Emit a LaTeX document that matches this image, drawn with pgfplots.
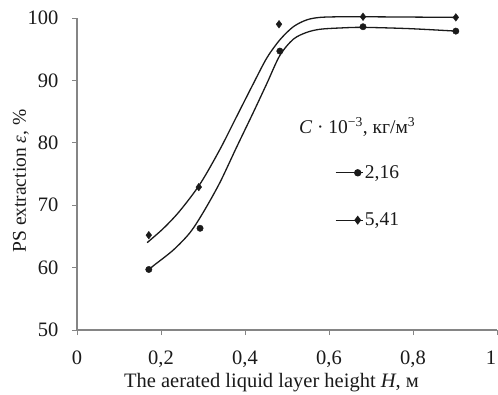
\documentclass[border=0pt]{standalone}
\usepackage{pgfplots}
\pgfplotsset{compat=1.18}
\usepackage{fontspec}
\setmainfont{Liberation Serif}

\newcommand\tickfont{\fontsize{20.5}{24}\selectfont}
\newcommand\chartfont{\fontsize{19.5}{23}\selectfont}
\definecolor{axisgray}{HTML}{858585}
\definecolor{ink}{HTML}{1A1A1A}

\begin{document}
\begin{tikzpicture}
\begin{axis}[
  scale only axis,
  width=420pt, height=312pt,
  xmin=0, xmax=1, ymin=50, ymax=100,
  axis lines*=left,
  axis line style={axisgray, line width=1.1pt},
  every tick/.style={axisgray, line width=0.8pt},
  tick align=outside,
  major tick length=5pt,
  xtick={0,0.2,0.4,0.6,0.8},
  extra x ticks={1},
  extra x tick style={xticklabel style={xshift=-6pt}},
  ytick={50,60,...,100},
  /pgf/number format/assume math mode=true,
  /pgf/number format/use comma,
  xticklabel style={/pgf/number format/fixed, /pgf/number format/precision=1,
    yshift=-12pt},
  yticklabel style={xshift=-10pt},
  ticklabel style={font=\tickfont, text=ink},
  xlabel={The aerated liquid layer height \textit{H}, м},
  xlabel style={font=\tickfont, text=ink,
    at={(axis description cs:0.463,-0.1827)}, anchor=base},
  ylabel={PS extraction \textit{ε}, \%},
  ylabel style={font=\chartfont, text=ink,
    at={(axis description cs:-0.1333,0.4776)}, anchor=center},
  clip=false,
  legend style={at={(0.614,0.428)}, anchor=west, draw=none, fill=none,
    font=\chartfont, text=ink, row sep=30pt, inner xsep=0pt,
    nodes={inner sep=1.5pt}},
  legend cell align=left,
  legend image code/.code={
    \draw[#1, mark=none] (0pt,0pt) -- (27pt,0pt);
    \draw[#1] plot coordinates {(22pt,0pt)};
  },
]

% fitted trend curves
\addplot[ink, line width=1.3pt, smooth, tension=0.5, forget plot] coordinates {
  (0.170,59.6) (0.182,60.3) (0.229,62.8) (0.269,65.6) (0.301,68.9)
  (0.340,73.6) (0.380,79.3) (0.420,84.9) (0.452,89.5) (0.483,94.0)
  (0.515,96.6) (0.547,97.7) (0.579,98.2) (0.626,98.4) (0.680,98.5)
  (0.790,98.3) (0.902,97.9)
};
\addplot[ink, line width=1.3pt, smooth, tension=0.5, forget plot] coordinates {
  (0.167,64.0) (0.206,66.3) (0.245,69.1) (0.293,73.4) (0.340,78.9)
  (0.380,84.2) (0.420,89.5) (0.452,93.6) (0.483,96.5) (0.515,98.6)
  (0.547,99.7) (0.579,100.1) (0.630,100.2) (0.680,100.2) (0.902,100.1)
};

% measured points
\addplot[only marks, mark=*, mark size=3.2pt, ink, forget plot] coordinates {
  (0.171,59.7) (0.293,66.3) (0.483,94.7) (0.681,98.6) (0.902,97.9)
};
\addplot[only marks, mark=diamond*, mark size=3.8pt, ink, forget plot] coordinates {
  (0.171,65.2) (0.290,72.9) (0.481,99.0) (0.681,100.2) (0.902,100.1)
};

\addlegendimage{ink, line width=1.3pt, mark=*, mark size=3pt}
\addlegendentry{2,16}
\addlegendimage{ink, line width=1.3pt, mark=diamond*, mark size=3.5pt}
\addlegendentry{5,41}

\node[font=\chartfont, text=ink] at (axis cs:0.667,82.5)
  {\textit{C} · 10\textsuperscript{−3}, кг/м\textsuperscript{3}};
\end{axis}
\pgfresetboundingbox
\path[use as bounding box] ([shift={(-77pt,-64pt)}]current axis.south west) rectangle ++(498pt,394pt);
\end{tikzpicture}
\end{document}
